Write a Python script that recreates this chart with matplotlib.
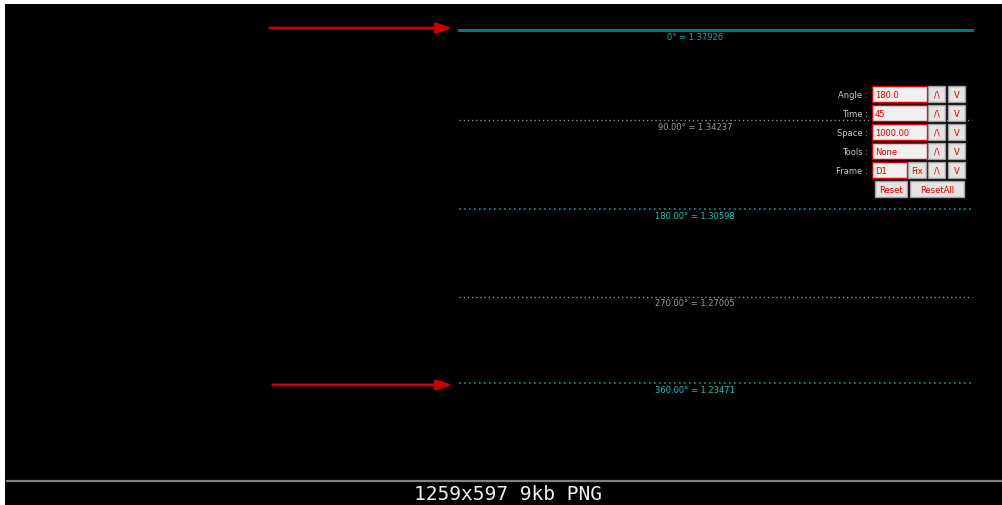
import matplotlib
matplotlib.use("Agg")
import matplotlib.pyplot as plt
from matplotlib.patches import Rectangle

# level data
angles = ["0°", "90.00°", "180.00°", "270.00°", "360.00°"]
prices = [1.37926, 1.34237, 1.30598, 1.27005, 1.23471]
level_kind = ["solid", "gray", "teal", "gray", "teal"]

# arrows point at the first and last level
arrow_levels = [1.37926, 1.23471]

# control panel
panel_labels = ["Angle :", "Time :", "Space :", "Tools :", "Frame :"]
panel_values = ["180.0", "45", "1000.00", "None", "D1"]

W, H = 1002, 506
fig = plt.figure(figsize=(W / 100, H / 100), dpi=100, facecolor="white")

# black chart area (pixel coords on x, price on y)
ax = fig.add_axes([5 / W, (H - 480) / H, (W - 5) / W, 475 / H])
ax.set_facecolor("black")
ax.set_xlim(5, 1002)
# y pixel = 3399.3 - 2442.1 * price
ax.set_ylim((3399.3 - 480) / 2442.1, (3399.3 - 5) / 2442.1)
ax.set_xticks([])
ax.set_yticks([])
for s in ax.spines.values():
    s.set_visible(False)

line_styles = {
    "solid": dict(color="#008080", ls="-", lw=2.0),
    "gray": dict(color="#8a8a8a", ls=(0, (1, 2)), lw=1.0),
    "teal": dict(color="#009a9a", ls=(0, (1, 2)), lw=1.2),
}
label_colors = {"solid": "#10a8a8", "gray": "#9a9a9a", "teal": "#20c0c0"}

for ang, p, kind in zip(angles, prices, level_kind):
    ax.plot([459, 972], [p, p], **line_styles[kind])
    ax.annotate(f"{ang} = {p:.5f}", xy=(695, p), xytext=(0, -4.5),
                textcoords="offset points", ha="center", va="center",
                fontsize=6, color=label_colors[kind])

# first arrow sits just above its line, the second just below
for p, x0, dy in zip(arrow_levels, [267, 270], [0.0008, -0.0008]):
    ax.annotate("", xy=(455, p + dy), xytext=(x0, p + dy),
                arrowprops=dict(arrowstyle="-|>,head_length=0.9,head_width=0.3",
                                color="#cc0000", lw=2))

# overlay in pixel coords for panel and footer
ov = fig.add_axes([0, 0, 1, 1])
ov.set_xlim(0, W)
ov.set_ylim(H, 0)
ov.axis("off")
ov.patch.set_alpha(0)

row_y = [95, 114, 133, 152, 171]
bh = 16
for lab, val, y in zip(panel_labels, panel_values, row_y):
    ov.text(868, y, lab, ha="right", va="center", fontsize=6, color="#c8c8c8")
    bw = 55 if lab != "Frame :" else 35
    ov.add_patch(Rectangle((872, y - bh / 2), bw, bh, facecolor="#f0f0f0",
                           edgecolor="#e00000", lw=1))
    ov.text(875, y, val, ha="left", va="center", fontsize=6, color="#e00000")
    if lab == "Frame :":
        ov.add_patch(Rectangle((908, y - bh / 2), 18, bh, facecolor="#e4e4e4",
                               edgecolor="#a0a0a0", lw=1))
        ov.text(917, y, "Fix", ha="center", va="center", fontsize=6, color="#e00000")
    for bx, t in [(928, "/\\"), (948, "V")]:
        ov.add_patch(Rectangle((bx, y - bh / 2), 17, bh, facecolor="#e4e4e4",
                               edgecolor="#a0a0a0", lw=1))
        ov.text(bx + 8.5, y, t, ha="center", va="center", fontsize=6, color="#e00000")

y = 190
for bx, bw, t in [(875, 32, "Reset"), (910, 54, "ResetAll")]:
    ov.add_patch(Rectangle((bx, y - bh / 2), bw, bh, facecolor="#e4e4e4",
                           edgecolor="#a0a0a0", lw=1))
    ov.text(bx + bw / 2, y, t, ha="center", va="center", fontsize=6, color="#e00000")

# footer
ov.add_patch(Rectangle((5, 480), W - 5, H - 480, facecolor="black", edgecolor="none"))
ov.plot([7, W], [481.5, 481.5], color="#808080", lw=1.6)
ov.text(508, 495, "1259x597 9kb PNG", ha="center", va="center",
        fontsize=14, color="#f0f0f0", family="DejaVu Sans Mono")

fig.savefig("out.png", dpi=100, facecolor="white")
